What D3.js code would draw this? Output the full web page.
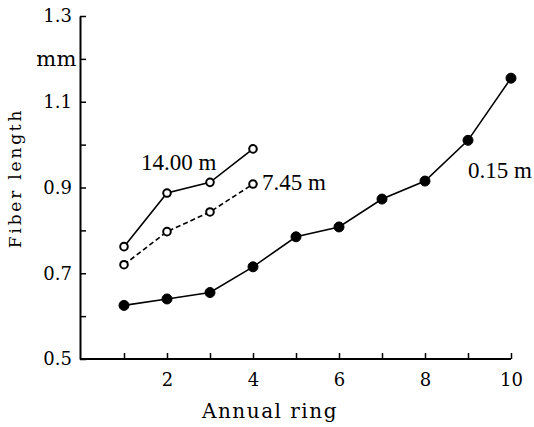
<!DOCTYPE html>
<html>
<head>
<meta charset="utf-8">
<script src="https://cdn.jsdelivr.net/npm/d3@7"></script>
<style>
  body { margin: 0; background: #fff; }
  svg { display: block; }
</style>
</head>
<body>
<div class="canvas"></div>
<script>
/* ----------- DATA ----------- */
const rings = [1, 2, 3, 4, 5, 6, 7, 8, 9, 10];
const len015 = [0.625, 0.64, 0.655, 0.715, 0.785, 0.808, 0.873, 0.915, 1.01, 1.155];
const len745 = [0.72, 0.797, 0.843, 0.908];
const len1400 = [0.762, 0.887, 0.912, 0.99];
const yTicks = [0.5, 0.6, 0.7, 0.8, 0.9, 1.0, 1.1, 1.2, 1.3];
const yLabels = { 0.5: '0.5', 0.7: '0.7', 0.9: '0.9', 1.1: '1.1', 1.2: 'mm', 1.3: '1.3' };
const xLabels = [2, 4, 6, 8, 10];

/* ----------- CONTAINER ----------- */
const svg = d3.select('.canvas')
    .append('svg')
    .attr('width', 534)
    .attr('height', 427);

// scales
const x = d3.scaleLinear().domain([0, 10]).range([81, 511]);
const y = d3.scaleLinear().domain([0.5, 1.3]).range([359, 16]);

/* ----------- AXES ----------- */
const xAxisGroup = svg.append('g')
    .attr('transform', `translate(0,${y(0.5)})`)
    .call(d3.axisBottom(x)
        .tickValues(rings)
        .tickSizeInner(-6)
        .tickSizeOuter(0)
        .tickPadding(14)
        .tickFormat(d => xLabels.includes(d) ? d : ''));

xAxisGroup.select('.domain')
    .attr('d', `M${x(0) - 1},0H${x(10)}`)
    .attr('stroke-width', 1.8);

const yAxisGroup = svg.append('g')
    .attr('transform', `translate(${x(0) - 1},0)`)
    .call(d3.axisLeft(y)
        .tickValues(yTicks)
        .tickSizeInner(-6)
        .tickSizeOuter(0)
        .tickPadding(8)
        .tickFormat(d => yLabels[d] || ''));

yAxisGroup.select('.domain').attr('stroke-width', 2);

svg.selectAll('.tick line').attr('stroke-width', 1.5);
svg.selectAll('.tick text')
    .attr('font-family', '"DejaVu Serif", serif')
    .attr('font-size', 18)
    .attr('fill', '#000');
// unit label sits almost against the axis
yAxisGroup.selectAll('.tick text')
    .filter(d => d === 1.2)
    .attr('x', -3)
    .attr('font-size', 21)
    .attr('letter-spacing', 0.5);

// axis titles
svg.append('text')
    .attr('x', 270)
    .attr('y', 418)
    .attr('text-anchor', 'middle')
    .attr('font-family', '"DejaVu Serif", serif')
    .attr('font-size', 20)
    .attr('letter-spacing', 1.5)
    .text('Annual ring');

svg.append('text')
    .attr('transform', 'translate(21,178) rotate(-90)')
    .attr('text-anchor', 'middle')
    .attr('font-family', '"DejaVu Serif", serif')
    .attr('font-size', 17)
    .attr('letter-spacing', 2.8)
    .text('Fiber length');

/* ----------- SERIES ----------- */
const line = d3.line()
    .x(d => x(d.ring))
    .y(d => y(d.v));

const series = [
    { vals: len015, dash: null, filled: true, label: '0.15 m', lx: 468, ly: 178 },
    { vals: len745, dash: '5,3', filled: false, label: '7.45 m', lx: 262, ly: 190 },
    { vals: len1400, dash: null, filled: false, label: '14.00 m', lx: 141, ly: 170 }
];

series.forEach(s => {
    const pts = s.vals.map((v, i) => ({ ring: rings[i], v: v }));

    svg.append('path')
        .datum(pts)
        .attr('d', line)
        .attr('fill', 'none')
        .attr('stroke', '#000')
        .attr('stroke-width', 1.6)
        .attr('stroke-dasharray', s.dash);

    svg.selectAll(null)
        .data(pts)
        .enter()
        .append('circle')
        .attr('cx', d => x(d.ring))
        .attr('cy', d => y(d.v))
        .attr('r', s.filled ? 5 : 3.8)
        .attr('fill', s.filled ? '#000' : '#fff')
        .attr('stroke', '#000')
        .attr('stroke-width', s.filled ? 1 : 2);

    svg.append('text')
        .attr('x', s.lx)
        .attr('y', s.ly)
        .attr('font-family', '"Liberation Serif", serif')
        .attr('font-size', 23)
        .text(s.label);
});
</script>
</body>
</html>
